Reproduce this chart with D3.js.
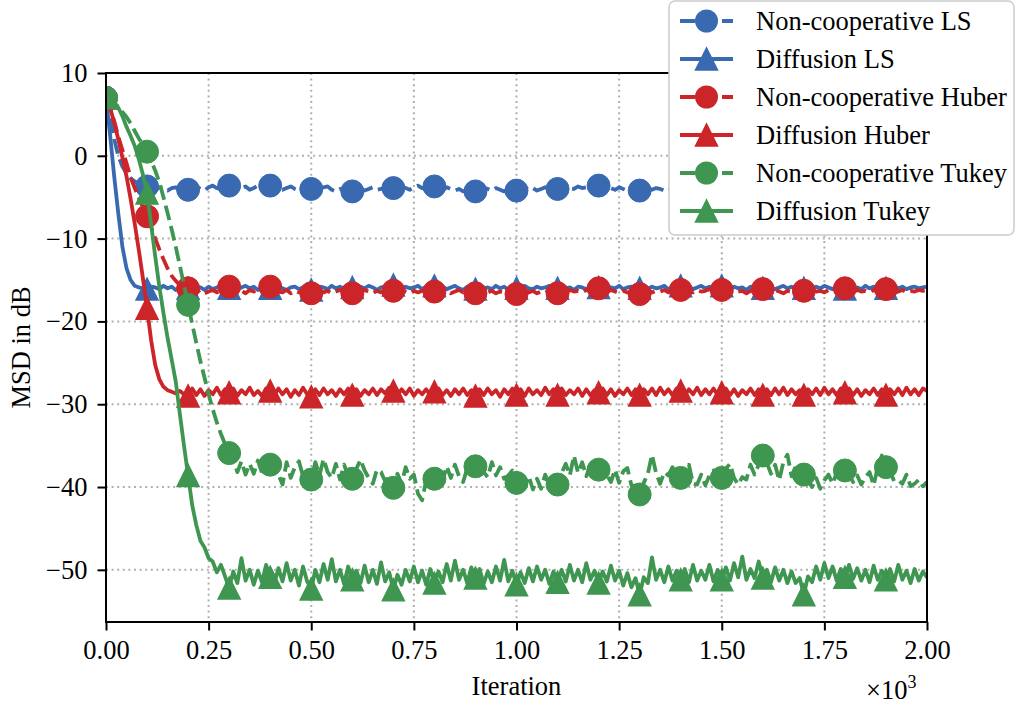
<!DOCTYPE html>
<html><head><meta charset="utf-8">
<script src="https://cdn.jsdelivr.net/npm/d3@7"></script>
<style>
body{margin:0;background:#fff}
svg{display:block}
text{font-family:"Liberation Serif","Times New Roman",serif;fill:#000}
</style>
</head><body>
<svg id="chart" width="1016" height="707"></svg>
<script>
// ---------------- data ----------------
const iterations = d3.range(0, 2001, 10);   // sample every 10 iterations

const nonCoopLS = [
 7.0,4.8,2.0,0.0,-1.3,-2.1,-2.7,-3.1,-3.4,-3.6,-3.7,
 -3.9,-4.1,-3.8,-4.0,-4.2,-3.9,-3.8,-4.1,-4.0,-4.1,
 -3.9,-3.7,-4.0,-4.2,-3.8,-3.6,-3.9,-4.1,-3.8,-3.6,
 -3.8,-4.0,-3.9,-3.7,-4.1,-3.9,-3.6,-3.8,-3.7,-3.6,
 -3.8,-4.0,-4.1,-3.9,-3.7,-4.0,-4.2,-4.0,-3.8,-4.0,
 -4.2,-4.0,-3.8,-3.7,-4.1,-4.3,-4.0,-4.2,-4.4,-4.3,
 -4.1,-3.9,-4.2,-4.0,-3.8,-4.1,-4.0,-3.8,-3.9,-3.9,
 -4.0,-3.7,-3.9,-4.1,-3.8,-3.6,-3.9,-4.0,-3.8,-3.7,
 -3.9,-4.1,-3.8,-4.0,-4.2,-4.0,-4.3,-4.1,-4.2,-4.3,
 -4.1,-3.9,-4.0,-4.2,-3.9,-4.1,-4.3,-4.0,-4.1,-4.2,
 -4.0,-3.8,-4.1,-3.9,-4.2,-4.0,-3.8,-4.1,-3.9,-4.0,
 -4.1,-3.8,-3.9,-4.0,-3.7,-3.9,-3.8,-3.6,-3.8,-3.6,
 -3.8,-4.0,-3.9,-4.1,-3.8,-4.0,-4.2,-3.9,-4.1,-4.2,
 -4.0,-3.8,-4.1,-3.9,-4.0,-4.2,-3.9,-4.1,-3.8,-4.0,
 -4.1,-3.9,-4.2,-4.0,-3.8,-4.1,-3.9,-4.0,-4.2,-3.9,
 -4.0,-4.1,-3.8,-4.0,-4.2,-3.9,-4.1,-3.8,-4.0,-4.1,
 -3.9,-4.0,-4.2,-3.8,-4.1,-4.0,-3.9,-4.2,-4.0,-3.8,
 -4.0,-4.1,-3.9,-4.2,-4.0,-3.8,-4.1,-3.9,-4.0,-4.1,
 -3.9,-4.2,-4.0,-3.8,-4.1,-3.9,-4.0,-4.2,-3.9,-4.0,
 -4.1,-3.9,-4.0,-4.2,-3.8,-4.0,-4.1,-3.9,-4.0,-4.1
];

const diffusionLS = [
 7.0,2.5,-2.5,-7.0,-11.0,-13.6,-15.0,-15.7,-15.9,-16.0,-16.1,
 -15.8,-15.9,-16.1,-15.7,-16.0,-15.8,-16.2,-15.9,-15.8,-16.0,
 -15.7,-16.0,-15.9,-16.2,-15.8,-16.1,-15.9,-15.7,-16.0,-16.0,
 -15.8,-16.1,-15.9,-15.7,-16.0,-15.8,-16.2,-15.9,-16.0,-16.0,
 -15.9,-15.7,-16.0,-16.2,-15.9,-15.8,-16.1,-15.9,-15.8,-16.2,
 -16.0,-15.8,-15.9,-16.1,-15.7,-16.0,-15.8,-16.1,-15.9,-15.9,
 -16.1,-15.8,-16.0,-15.7,-15.9,-16.2,-15.9,-15.8,-16.0,-15.6,
 -15.9,-16.1,-15.8,-16.0,-15.9,-15.7,-16.1,-15.8,-16.0,-15.7,
 -16.0,-15.8,-16.1,-15.9,-15.7,-16.0,-16.2,-15.8,-15.9,-16.1,
 -15.8,-16.0,-15.9,-16.1,-15.7,-16.0,-15.8,-16.2,-15.9,-16.0,
 -15.9,-15.7,-16.0,-16.1,-15.8,-16.0,-15.9,-15.7,-16.1,-16.0,
 -15.8,-16.0,-15.9,-16.2,-15.8,-15.9,-16.1,-15.8,-16.0,-15.9,
 -16.1,-15.8,-15.9,-16.0,-15.7,-16.1,-15.9,-15.8,-16.0,-16.0,
 -15.9,-16.1,-15.8,-16.0,-15.9,-15.7,-16.1,-15.9,-15.8,-15.7,
 -16.0,-15.8,-16.1,-15.9,-15.7,-16.0,-15.8,-16.1,-15.9,-15.7,
 -15.9,-16.1,-15.8,-16.0,-15.9,-16.2,-15.8,-16.0,-15.9,-16.0,
 -15.8,-16.0,-16.1,-15.9,-15.7,-16.0,-15.8,-16.1,-15.9,-16.0,
 -15.9,-16.1,-15.8,-16.0,-15.7,-15.9,-16.1,-15.8,-16.0,-16.1,
 -15.8,-16.0,-15.9,-16.1,-15.7,-16.0,-15.8,-16.1,-15.9,-16.0,
 -15.9,-15.7,-16.0,-15.8,-16.1,-15.9,-15.8,-16.0,-15.9,-15.8
];

const nonCoopHuber = [
 7.0,5.8,4.2,2.3,0.7,-0.9,-2.6,-3.9,-5.1,-6.2,-7.3,
 -8.6,-10.0,-11.3,-12.5,-13.6,-14.5,-15.1,-15.6,-15.9,-16.0,
 -16.3,-16.5,-16.2,-16.6,-16.4,-16.2,-16.5,-16.3,-16.1,-15.8,
 -16.1,-16.4,-16.3,-16.6,-16.2,-16.4,-16.1,-16.3,-16.0,-15.8,
 -16.1,-16.4,-16.5,-16.2,-16.6,-16.3,-16.5,-16.4,-16.3,-16.6,
 -16.4,-16.2,-16.5,-16.3,-16.6,-16.4,-16.2,-16.5,-16.4,-16.6,
 -16.3,-16.5,-16.2,-16.4,-16.6,-16.3,-16.5,-16.2,-16.4,-16.3,
 -16.5,-16.2,-16.4,-16.6,-16.3,-16.5,-16.3,-16.2,-16.5,-16.4,
 -16.2,-16.5,-16.3,-16.6,-16.4,-16.2,-16.5,-16.3,-16.4,-16.6,
 -16.4,-16.2,-16.5,-16.3,-16.6,-16.4,-16.5,-16.3,-16.5,-16.7,
 -16.4,-16.2,-16.5,-16.3,-16.6,-16.4,-16.2,-16.5,-16.3,-16.6,
 -16.4,-16.5,-16.2,-16.4,-16.3,-16.5,-16.2,-16.3,-16.1,-16.0,
 -16.3,-16.5,-16.2,-16.4,-16.6,-16.3,-16.5,-16.6,-16.4,-16.7,
 -16.4,-16.2,-16.5,-16.3,-16.4,-16.2,-16.5,-16.3,-16.1,-16.2,
 -16.4,-16.3,-16.5,-16.2,-16.4,-16.3,-16.1,-16.4,-16.3,-16.2,
 -16.4,-16.5,-16.2,-16.4,-16.3,-16.6,-16.3,-16.2,-16.4,-16.1,
 -16.3,-16.5,-16.2,-16.4,-16.6,-16.3,-16.4,-16.2,-16.5,-16.3,
 -16.5,-16.2,-16.4,-16.3,-16.5,-16.2,-16.4,-16.1,-16.3,-16.0,
 -16.3,-16.5,-16.2,-16.4,-16.3,-16.5,-16.2,-16.4,-16.2,-16.1,
 -16.3,-16.5,-16.4,-16.2,-16.5,-16.3,-16.4,-16.2,-16.3,-16.2
];

const diffusionHuber = [
 7.0,5.8,4.0,2.0,-0.2,-2.5,-5.2,-8.2,-11.4,-14.8,-18.4,
 -22.3,-25.3,-27.0,-27.9,-28.3,-28.5,-28.7,-28.4,-28.8,-29.0,
 -28.1,-28.9,-28.2,-29.0,-28.3,-28.8,-28.0,-28.9,-28.2,-28.6,
 -28.1,-29.0,-28.3,-28.8,-28.0,-28.9,-28.4,-29.0,-28.1,-28.4,
 -28.9,-28.1,-28.8,-28.2,-29.1,-28.3,-28.9,-28.0,-28.8,-29.1,
 -28.2,-28.9,-28.1,-28.8,-28.3,-29.0,-28.2,-28.8,-28.1,-28.9,
 -28.2,-29.0,-28.3,-28.8,-28.1,-28.9,-28.2,-28.7,-28.0,-28.4,
 -28.9,-28.2,-28.8,-28.1,-29.0,-28.3,-28.8,-28.2,-28.9,-28.5,
 -28.1,-28.9,-28.3,-29.0,-28.2,-28.8,-28.1,-28.9,-28.3,-29.0,
 -28.2,-28.9,-28.1,-28.8,-28.3,-29.1,-28.2,-28.8,-28.1,-28.9,
 -28.2,-29.0,-28.1,-28.8,-28.3,-28.9,-28.0,-28.8,-28.2,-28.9,
 -28.1,-28.9,-28.3,-28.8,-28.1,-29.0,-28.2,-28.9,-28.3,-28.6,
 -28.1,-28.9,-28.2,-29.0,-28.3,-28.8,-28.1,-28.9,-28.2,-28.9,
 -28.2,-28.8,-28.1,-28.9,-28.0,-28.8,-28.2,-28.9,-28.1,-28.4,
 -28.9,-28.2,-28.8,-28.0,-28.9,-28.2,-28.8,-28.1,-28.9,-28.6,
 -28.1,-28.9,-28.2,-29.0,-28.3,-28.8,-28.1,-28.9,-28.2,-28.9,
 -28.2,-28.9,-28.1,-28.8,-28.0,-28.9,-28.2,-28.8,-28.3,-28.9,
 -28.2,-28.8,-28.1,-28.9,-28.0,-28.8,-28.2,-28.9,-28.1,-28.6,
 -28.1,-28.9,-28.2,-29.0,-28.3,-28.8,-28.1,-28.9,-28.2,-28.9,
 -28.2,-28.8,-28.1,-28.9,-28.0,-28.8,-28.2,-28.9,-28.1,-28.4
];

const nonCoopTukey = [
 7.0,6.8,6.4,5.9,5.3,4.7,3.9,3.0,2.1,1.3,0.5,
 -0.6,-1.8,-3.2,-5.0,-6.9,-8.9,-11.0,-13.3,-15.6,-18.0,
 -20.3,-22.6,-24.8,-26.8,-28.8,-30.6,-32.2,-33.6,-34.8,-35.9,
 -36.6,-38.2,-36.9,-38.5,-37.2,-38.4,-36.8,-38.3,-37.1,-37.3,
 -36.2,-38.5,-39.7,-37.0,-38.9,-37.6,-36.9,-38.7,-38.3,-39.1,
 -37.0,-38.6,-36.6,-38.2,-38.9,-37.2,-39.1,-37.3,-38.7,-39.0,
 -37.8,-36.7,-38.0,-38.9,-39.6,-37.9,-38.2,-39.3,-38.7,-40.1,
 -38.4,-39.6,-37.6,-39.0,-38.5,-40.8,-41.6,-39.2,-38.6,-39.0,
 -37.9,-39.3,-37.5,-38.9,-37.3,-38.7,-39.4,-37.7,-37.2,-37.5,
 -36.5,-38.2,-38.8,-37.0,-38.6,-37.6,-39.0,-38.6,-38.0,-39.5,
 -38.5,-39.9,-38.7,-40.3,-39.0,-40.2,-38.5,-39.8,-40.1,-39.7,
 -38.3,-37.2,-38.6,-36.2,-38.3,-37.0,-38.7,-37.3,-38.2,-37.9,
 -38.8,-38.5,-39.4,-37.9,-39.5,-38.1,-37.7,-39.8,-39.9,-40.9,
 -39.5,-38.4,-36.1,-38.3,-39.6,-38.2,-38.6,-37.6,-38.7,-38.9,
 -37.9,-37.3,-39.6,-39.7,-38.5,-39.8,-38.6,-38.0,-39.5,-38.9,
 -37.8,-37.2,-38.9,-39.7,-38.8,-39.1,-37.3,-38.5,-37.3,-36.2,
 -37.1,-38.4,-37.3,-39.2,-37.0,-36.1,-38.7,-37.5,-39.3,-38.5,
 -39.2,-40.0,-38.9,-40.2,-39.2,-38.5,-39.6,-38.3,-38.7,-38.0,
 -38.5,-39.4,-38.6,-39.7,-38.8,-38.2,-39.8,-37.6,-36.2,-37.6,
 -38.1,-39.3,-39.2,-39.6,-38.5,-39.9,-39.6,-39.1,-39.9,-39.4
];

const diffusionTukey = [
 7.0,6.8,6.4,5.8,4.8,3.5,2.4,1.2,-0.4,-2.3,-4.5,
 -8.3,-12.2,-15.8,-19.0,-22.0,-24.6,-27.3,-31.2,-35.0,-38.6,
 -42.2,-44.6,-46.5,-47.3,-48.6,-49.0,-50.3,-49.4,-50.8,-52.2,
 -50.2,-51.6,-48.6,-51.3,-50.0,-51.8,-50.1,-51.5,-49.4,-50.9,
 -51.7,-49.8,-51.4,-49.2,-51.3,-50.0,-51.9,-49.6,-51.4,-52.3,
 -50.0,-51.5,-49.3,-51.2,-48.7,-51.4,-50.0,-51.7,-49.6,-51.2,
 -50.1,-51.6,-49.5,-51.5,-50.0,-51.7,-49.1,-51.4,-50.3,-52.4,
 -50.6,-51.8,-50.0,-51.4,-49.6,-51.5,-50.1,-51.8,-49.9,-51.6,
 -50.2,-51.5,-49.3,-51.3,-48.9,-51.2,-50.0,-51.6,-49.7,-51.0,
 -49.9,-51.7,-50.2,-51.5,-49.6,-51.3,-48.8,-51.4,-50.1,-51.8,
 -50.3,-51.6,-49.8,-51.4,-49.6,-51.2,-50.0,-51.7,-50.2,-51.5,
 -50.0,-51.4,-49.4,-51.3,-50.0,-51.5,-49.2,-51.2,-50.1,-51.6,
 -50.2,-51.4,-49.5,-51.3,-50.1,-51.9,-50.4,-52.1,-51.0,-53.0,
 -50.9,-51.6,-48.5,-51.2,-50.0,-51.5,-49.6,-51.3,-50.1,-51.2,
 -49.9,-51.5,-49.4,-51.3,-50.1,-51.2,-49.4,-51.4,-50.0,-51.2,
 -49.7,-51.3,-49.2,-50.9,-48.4,-51.2,-49.9,-51.0,-49.0,-51.0,
 -50.0,-51.5,-49.7,-51.3,-50.0,-51.6,-50.2,-51.6,-51.0,-53.0,
 -50.8,-51.5,-49.6,-51.2,-49.2,-51.0,-49.6,-51.3,-49.9,-50.9,
 -49.4,-51.1,-49.8,-51.3,-50.0,-51.5,-49.5,-51.2,-50.1,-51.2,
 -49.9,-51.4,-49.4,-51.2,-50.1,-51.6,-49.9,-51.3,-50.2,-50.9
];

const seriesLabels = ["Non-cooperative LS","Diffusion LS","Non-cooperative Huber",
                      "Diffusion Huber","Non-cooperative Tukey","Diffusion Tukey"];
const seriesValues = [nonCoopLS, diffusionLS, nonCoopHuber, diffusionHuber, nonCoopTukey, diffusionTukey];
const seriesColors = ["#396AB1","#396AB1","#CC2529","#CC2529","#3E9651","#3E9651"];
const seriesDashed = [true,false,true,false,true,false];
const seriesMarker = ["circle","triangle","circle","triangle","circle","triangle"];
const markerEvery = 100;

const xTicks = [0,250,500,750,1000,1250,1500,1750,2000];
const yTicks = [-50,-40,-30,-20,-10,0,10];
const xLabel = "Iteration";
const yLabel = "MSD in dB";

// ---------------- layout ----------------
const L = 106, R = 927, T = 73, B = 622;
const FS = 26.5;
const LW = 3.8;
const DASH = "15,6";
const svg = d3.select("#chart");
const x = d3.scaleLinear().domain([0, 2000]).range([L, R]);
const y = d3.scaleLinear().domain([-56.3, 10]).range([B, T]);

svg.append("defs").append("clipPath").attr("id","plotclip")
  .append("rect").attr("x",L).attr("y",T).attr("width",R-L).attr("height",B-T);

// grid
const grid = svg.append("g").attr("stroke","#b0b0b0").attr("stroke-width",2).attr("stroke-dasharray","2,3.6");
grid.selectAll(".gx").data(xTicks).join("line")
  .attr("x1",d=>x(d)).attr("x2",d=>x(d)).attr("y1",T).attr("y2",B);
grid.selectAll(".gy").data(yTicks).join("line")
  .attr("y1",d=>y(d)).attr("y2",d=>y(d)).attr("x1",L).attr("x2",R);

// series
const plot = svg.append("g").attr("clip-path","url(#plotclip)");
const line = d3.line().x((d,i)=>x(iterations[i])).y(d=>y(d));
const triPath = s => `M0,${-s}L${-s},${s}L${s},${s}Z`;
const MS = 11;

seriesValues.forEach((vals, k) => {
  plot.append("path").datum(vals)
    .attr("d", line)
    .attr("fill","none")
    .attr("stroke", seriesColors[k])
    .attr("stroke-width", LW)
    .attr("stroke-linejoin","round")
    .attr("stroke-dasharray", seriesDashed[k] ? DASH : null);
  const pts = vals.map((v,i)=>({it:iterations[i], v}))
    .filter(p => p.it % markerEvery === 0 && p.it < 2000);
  if (seriesMarker[k] === "circle") {
    plot.selectAll(null).data(pts).join("circle")
      .attr("cx",p=>x(p.it)).attr("cy",p=>y(p.v)).attr("r",MS+0.5)
      .attr("fill",seriesColors[k]).attr("stroke",seriesColors[k]).attr("stroke-width",1);
  } else {
    plot.selectAll(null).data(pts).join("path")
      .attr("transform",p=>`translate(${x(p.it)},${y(p.v)})`)
      .attr("d", triPath(MS))
      .attr("fill",seriesColors[k]).attr("stroke",seriesColors[k]).attr("stroke-width",1.5);
  }
});

// axes
const xAxis = d3.axisBottom(x).tickValues(xTicks).tickFormat(d=>(d/1000).toFixed(2))
  .tickSize(8.5).tickPadding(9.5);
const yAxis = d3.axisLeft(y).tickValues(yTicks).tickFormat(d=> d<0 ? "\u2212"+Math.abs(d) : String(d))
  .tickSize(8.5).tickPadding(10);
const gx = svg.append("g").attr("transform",`translate(0,${B})`).call(xAxis);
const gy = svg.append("g").attr("transform",`translate(${L},0)`).call(yAxis);
[gx, gy].forEach(g=>{
  g.select(".domain").remove();
  g.selectAll(".tick line").attr("stroke","#000").attr("stroke-width",2);
  g.selectAll(".tick text").attr("font-size",FS).attr("font-family",'"Liberation Serif",serif').attr("fill","#000");
});

// spines
svg.append("rect").attr("x",L).attr("y",T).attr("width",R-L).attr("height",B-T)
  .attr("fill","none").attr("stroke","#000").attr("stroke-width",2);

// labels
svg.append("text").attr("x",(L+R)/2).attr("y",695).attr("text-anchor","middle")
  .attr("font-size",FS).text(xLabel);
svg.append("text").attr("transform",`translate(30,${(T+B)/2}) rotate(-90)`)
  .attr("text-anchor","middle").attr("font-size",FS).text(yLabel);
const off = svg.append("text").attr("x",866).attr("y",699).attr("font-size",FS);
off.append("tspan").text("\u00d710");
off.append("tspan").attr("font-size",18).attr("dy",-11).text("3");

// legend
const lg = svg.append("g");
lg.append("rect").attr("x",669).attr("y",1).attr("width",345).attr("height",234)
  .attr("rx",6).attr("fill","#fff").attr("stroke","#cccccc").attr("stroke-width",1.5);
seriesLabels.forEach((lab,k)=>{
  const cy = 21 + k*38;
  lg.append("line").attr("x1",680).attr("x2",733).attr("y1",cy).attr("y2",cy)
    .attr("stroke",seriesColors[k]).attr("stroke-width",LW)
    .attr("stroke-dasharray", seriesDashed[k] ? DASH : null);
  if (seriesMarker[k]==="circle") {
    lg.append("circle").attr("cx",706.5).attr("cy",cy).attr("r",MS+0.5).attr("fill",seriesColors[k]);
  } else {
    lg.append("path").attr("transform",`translate(706.5,${cy})`).attr("d",triPath(MS))
      .attr("fill",seriesColors[k]).attr("stroke",seriesColors[k]).attr("stroke-width",1.5);
  }
  lg.append("text").attr("x",756).attr("y",cy+9).attr("font-size",FS).text(lab);
});
</script>
</body></html>
